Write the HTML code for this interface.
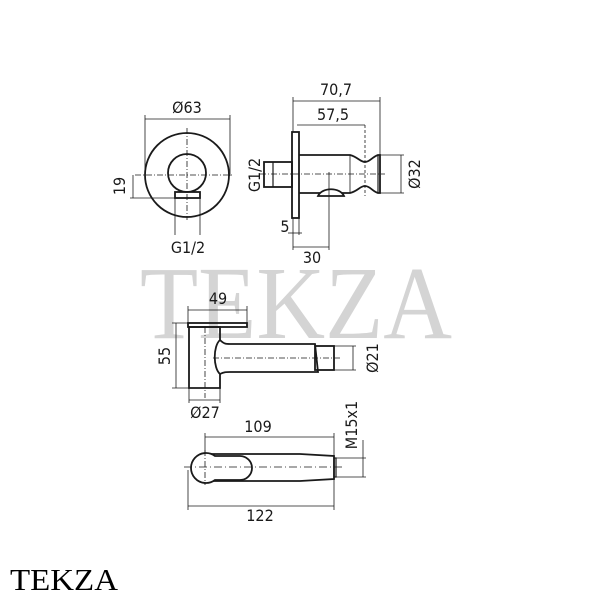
<!DOCTYPE html>
<html><head><meta charset="utf-8"><style>
html,body{margin:0;padding:0;background:#fff;}
svg{display:block}
text{font-family:"DejaVu Sans Condensed","DejaVu Sans","Liberation Sans",sans-serif;font-stretch:condensed;fill:#1a1a1a;}
</style></head><body>
<svg width="600" height="600" viewBox="0 0 600 600" xmlns="http://www.w3.org/2000/svg">
<!-- watermark -->
<text x="140" y="338" style="font-family:'Liberation Serif',serif;fill:#d4d4d4;font-stretch:normal" font-size="104" textLength="312" lengthAdjust="spacingAndGlyphs">TEKZA</text>

<g stroke="#1a1a1a" fill="none" stroke-width="1">
<!-- front view circle -->
<circle cx="187" cy="175" r="42" stroke-width="1.8"/>
<circle cx="187" cy="173" r="19" stroke-width="1.8"/>
<rect x="175" y="192" width="25" height="6" stroke-width="1.8"/>
<line x1="187" y1="128" x2="187" y2="220" stroke-dasharray="6,2,1,2" stroke-width="0.8"/>
<line x1="135" y1="175" x2="234" y2="175" stroke-dasharray="6,2,1,2" stroke-width="0.8"/>
<line x1="145" y1="119" x2="230" y2="119" stroke-width="0.8"/>
<line x1="145" y1="115" x2="145" y2="176" stroke-width="0.8"/>
<line x1="230" y1="115" x2="230" y2="176" stroke-width="0.8"/>
<line x1="133" y1="175" x2="133" y2="198" stroke-width="0.8"/>
<line x1="130" y1="198" x2="175" y2="198" stroke-width="0.8"/>
<line x1="175" y1="198" x2="175" y2="235" stroke-width="0.8"/>
<line x1="200" y1="198" x2="200" y2="235" stroke-width="0.8"/>

<!-- side view -->
<rect x="292" y="132" width="7" height="86" stroke-width="1.8"/>
<rect x="264" y="162" width="28" height="25" stroke-width="1.8"/>
<line x1="273" y1="162" x2="273" y2="187" stroke-width="1.2"/>
<path d="M299 155 H350 C358 157 360 162 365 162 C370 162 372 157 378 155 H380 V193 H378 C372 191 370 186 365 186 C360 186 358 191 350 193 H299" stroke-width="1.8"/>
<line x1="350" y1="155" x2="350" y2="193" stroke-width="0.8"/>
<line x1="378" y1="155" x2="378" y2="193" stroke-width="1.2"/>
<path d="M318 196 C322 187 340 187 344 196 Z" stroke-width="1.8" fill="#fff"/>
<line x1="260" y1="174" x2="385" y2="174" stroke-dasharray="6,2,1,2" stroke-width="0.8"/>
<line x1="293" y1="101" x2="380" y2="101" stroke-width="0.8"/>
<line x1="293" y1="97" x2="293" y2="132" stroke-width="0.8"/>
<line x1="380" y1="97" x2="380" y2="155" stroke-width="0.8"/>
<line x1="297" y1="125" x2="365" y2="125" stroke-width="0.8"/>
<line x1="365" y1="125" x2="365" y2="196" stroke-dasharray="3,2" stroke-width="0.8"/>
<line x1="380" y1="155" x2="404" y2="155" stroke-width="0.8"/>
<line x1="380" y1="193" x2="404" y2="193" stroke-width="0.8"/>
<line x1="401" y1="155" x2="401" y2="193" stroke-width="0.8"/>
<line x1="293" y1="218" x2="293" y2="250" stroke-width="0.8"/>
<line x1="299" y1="218" x2="299" y2="235" stroke-width="0.8"/>
<line x1="288" y1="233" x2="302" y2="233" stroke-width="0.8"/>
<line x1="329" y1="172" x2="329" y2="250" stroke-width="0.8"/>
<line x1="293" y1="247" x2="329" y2="247" stroke-width="0.8"/>

<!-- top view of hand shower -->
<rect x="188" y="323" width="59" height="4" stroke-width="1.8"/>
<path d="M189 327 H220 V340 C213 346 213 368 220 374 V388 H189 Z" stroke-width="1.8"/>
<path d="M220 340 C224 344 226 344 230 344 H315 L318 372 H230 C226 372 224 372 220 374" stroke-width="1.8"/>
<rect x="315" y="346" width="19" height="24" stroke-width="1.8"/>
<line x1="205" y1="327" x2="205" y2="398" stroke-dasharray="6,2,1,2" stroke-width="0.8"/>
<line x1="213" y1="358" x2="340" y2="358" stroke-dasharray="6,2,1,2" stroke-width="0.8"/>
<line x1="188" y1="310" x2="247" y2="310" stroke-width="0.8"/>
<line x1="188" y1="306" x2="188" y2="323" stroke-width="0.8"/>
<line x1="247" y1="306" x2="247" y2="323" stroke-width="0.8"/>
<line x1="176" y1="323" x2="176" y2="388" stroke-width="0.8"/>
<line x1="172" y1="323" x2="189" y2="323" stroke-width="0.8"/>
<line x1="172" y1="388" x2="189" y2="388" stroke-width="0.8"/>
<line x1="189" y1="388" x2="189" y2="403" stroke-width="0.8"/>
<line x1="220" y1="388" x2="220" y2="403" stroke-width="0.8"/>
<line x1="189" y1="400" x2="220" y2="400" stroke-width="0.8"/>
<line x1="334" y1="346" x2="356" y2="346" stroke-width="0.8"/>
<line x1="334" y1="370" x2="356" y2="370" stroke-width="0.8"/>
<line x1="353" y1="346" x2="353" y2="370" stroke-width="0.8"/>

<!-- side view of hand shower -->
<path d="M202 454 H300 L334 456 V479 L300 481 H202" stroke-width="1.8"/>
<path d="M215 456 A15 15 0 1 0 215 480 L240 480 A12 12 0 0 0 240 456 Z" stroke-width="1.8" fill="#fff"/>
<rect x="334" y="458" width="2" height="19" stroke-width="1.2"/>
<line x1="184" y1="467" x2="345" y2="467" stroke-dasharray="8,3,1,3" stroke-width="0.8"/>
<line x1="205" y1="450" x2="205" y2="485" stroke-dasharray="6,2,1,2" stroke-width="0.8"/>
<line x1="205" y1="437" x2="334" y2="437" stroke-width="0.8"/>
<line x1="205" y1="433" x2="205" y2="452" stroke-width="0.8"/>
<line x1="334" y1="433" x2="334" y2="456" stroke-width="0.8"/>
<line x1="336" y1="458" x2="366" y2="458" stroke-width="0.8"/>
<line x1="336" y1="477" x2="366" y2="477" stroke-width="0.8"/>
<line x1="363" y1="440" x2="363" y2="477" stroke-width="0.8"/>
<line x1="188" y1="470" x2="188" y2="510" stroke-width="0.8"/>
<line x1="334" y1="479" x2="334" y2="510" stroke-width="0.8"/>
<line x1="188" y1="506" x2="334" y2="506" stroke-width="0.8"/>
</g>

<g font-size="16">
<text x="187" y="113" text-anchor="middle">Ø63</text>
<text transform="translate(125 186) rotate(-90)" text-anchor="middle">19</text>
<text x="188" y="253" text-anchor="middle">G1/2</text>
<text x="336" y="95" text-anchor="middle">70,7</text>
<text x="333" y="120" text-anchor="middle">57,5</text>
<text transform="translate(260 175) rotate(-90)" text-anchor="middle">G1/2</text>
<text transform="translate(420 174) rotate(-90)" text-anchor="middle">Ø32</text>
<text x="285" y="232" text-anchor="middle">5</text>
<text x="312" y="263" text-anchor="middle">30</text>
<text x="218" y="304" text-anchor="middle">49</text>
<text transform="translate(170 356) rotate(-90)" text-anchor="middle">55</text>
<text transform="translate(378 358) rotate(-90)" text-anchor="middle">Ø21</text>
<text x="205" y="418" text-anchor="middle">Ø27</text>
<text x="258" y="432" text-anchor="middle">109</text>
<text transform="translate(357 425) rotate(-90)" text-anchor="middle">M15x1</text>
<text x="260" y="521" text-anchor="middle">122</text>
</g>
<text x="10" y="590" style="font-family:'Liberation Serif',serif;fill:#000;font-stretch:normal" font-size="31" textLength="108" lengthAdjust="spacingAndGlyphs">TEKZA</text>
</svg>
</body></html>
